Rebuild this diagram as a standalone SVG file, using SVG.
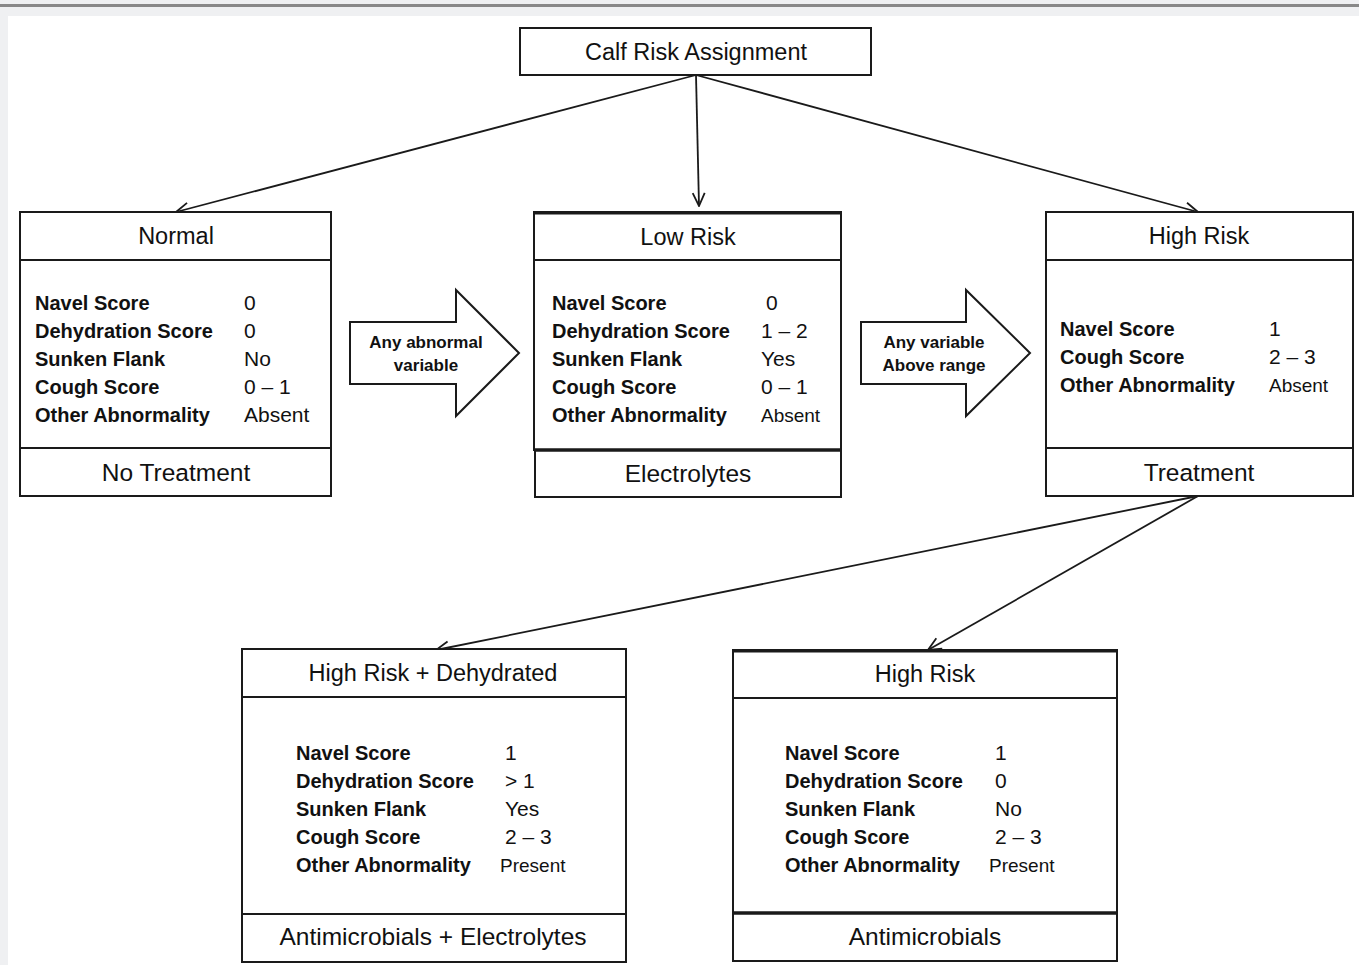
<svg xmlns="http://www.w3.org/2000/svg" width="1359" height="965" viewBox="0 0 1359 965">
<style>
.bx{fill:#fff;stroke:#1a1a1a;stroke-width:2}
.ln{stroke:#1a1a1a;stroke-width:2;fill:none}
.hd{font-family:"Liberation Sans",Arial,sans-serif;font-size:23.5px;fill:#111;text-anchor:middle}
.ft{font-family:"Liberation Sans",Arial,sans-serif;font-size:24.5px;fill:#111;text-anchor:middle}
.lb{font-family:"Liberation Sans",Arial,sans-serif;font-size:20px;font-weight:bold;fill:#111}
.vl{font-family:"Liberation Sans",Arial,sans-serif;font-size:21px;fill:#111}
.vs{font-family:"Liberation Sans",Arial,sans-serif;font-size:19px;fill:#111}
.ar{font-family:"Liberation Sans",Arial,sans-serif;font-size:17px;font-weight:bold;fill:#111;text-anchor:middle}
.cn{stroke:#1a1a1a;stroke-width:1.8;fill:none;marker-end:url(#v)}
</style>
<defs>
<marker id="v" markerUnits="userSpaceOnUse" markerWidth="16" markerHeight="16" viewBox="0 0 16 16" refX="15" refY="8" orient="auto">
<path d="M2,2 L15,8 L2,14" fill="none" stroke="#1a1a1a" stroke-width="1.8"/>
</marker>
</defs>
<rect x="0" y="0" width="1359" height="965" fill="#fff"/>
<rect x="0" y="0" width="1359" height="16" fill="#eff0f2"/>
<rect x="0" y="0" width="8" height="965" fill="#eff0f2"/>
<rect x="0" y="4" width="1359" height="3" fill="#888"/>

<g id="connectors">
<line class="cn" x1="696" y1="75" x2="176" y2="212"/>
<line class="cn" x1="696" y1="75" x2="699" y2="206"/>
<line class="cn" x1="696" y1="75" x2="1198" y2="212"/>
<line class="cn" x1="1198" y1="496" x2="436" y2="650"/>
<line class="cn" x1="1198" y1="496" x2="928" y2="650"/>
</g>

<g id="root">
<rect class="bx" x="520" y="28" width="351" height="47"/>
<text class="hd" x="696" y="60">Calf Risk Assignment</text>
</g>

<g id="normal">
<rect class="bx" x="20" y="212" width="311" height="284"/>
<line class="ln" x1="20" y1="260" x2="331" y2="260"/>
<line class="ln" x1="20" y1="448" x2="331" y2="448"/>
<text class="hd" x="176" y="244">Normal</text>
<text class="lb" x="35" y="310">Navel Score</text>
<text class="lb" x="35" y="338">Dehydration Score</text>
<text class="lb" x="35" y="366">Sunken Flank</text>
<text class="lb" x="35" y="394">Cough Score</text>
<text class="lb" x="35" y="422">Other Abnormality</text>
<text class="vl" x="244" y="310">0</text>
<text class="vl" x="244" y="338">0</text>
<text class="vl" x="244" y="366">No</text>
<text class="vl" x="244" y="394">0 – 1</text>
<text class="vl" x="244" y="422">Absent</text>
<text class="ft" x="176" y="481">No Treatment</text>
</g>

<g id="arrow-abnormal">
<polygon class="bx" points="350,322 456,322 456,290 519,353 456,416 456,384 350,384"/>
<text class="ar" x="426" y="348">Any abnormal</text>
<text class="ar" x="426" y="371">variable</text>
</g>

<g id="low-risk">
<rect class="bx" x="534" y="212" width="307" height="238"/>
<line x1="534" y1="213" x2="841" y2="213" stroke="#1a1a1a" stroke-width="3"/>
<line class="ln" x1="534" y1="260" x2="841" y2="260"/>
<rect class="bx" x="535" y="450" width="306" height="47"/>
<line x1="534" y1="450" x2="841" y2="450" stroke="#1a1a1a" stroke-width="3.5"/>
<text class="hd" x="688" y="245">Low Risk</text>
<text class="lb" x="552" y="310">Navel Score</text>
<text class="lb" x="552" y="338">Dehydration Score</text>
<text class="lb" x="552" y="366">Sunken Flank</text>
<text class="lb" x="552" y="394">Cough Score</text>
<text class="lb" x="552" y="422">Other Abnormality</text>
<text class="vl" x="766" y="310">0</text>
<text class="vl" x="761" y="338">1 – 2</text>
<text class="vl" x="761" y="366">Yes</text>
<text class="vl" x="761" y="394">0 – 1</text>
<text class="vs" x="761" y="422">Absent</text>
<text class="ft" x="688" y="482">Electrolytes</text>
</g>

<g id="arrow-above">
<polygon class="bx" points="861,322 966,322 966,290 1030,353 966,416 966,384 861,384"/>
<text class="ar" x="934" y="348">Any variable</text>
<text class="ar" x="934" y="371">Above range</text>
</g>

<g id="high-risk">
<rect class="bx" x="1046" y="212" width="307" height="284"/>
<line class="ln" x1="1046" y1="260" x2="1353" y2="260"/>
<line class="ln" x1="1046" y1="448" x2="1353" y2="448"/>
<text class="hd" x="1199" y="244">High Risk</text>
<text class="lb" x="1060" y="336">Navel Score</text>
<text class="lb" x="1060" y="364">Cough Score</text>
<text class="lb" x="1060" y="392">Other Abnormality</text>
<text class="vl" x="1269" y="336">1</text>
<text class="vl" x="1269" y="364">2 – 3</text>
<text class="vs" x="1269" y="392">Absent</text>
<text class="ft" x="1199" y="481">Treatment</text>
</g>

<g id="high-risk-dehydrated">
<rect class="bx" x="242" y="649" width="384" height="313"/>
<line class="ln" x1="242" y1="697" x2="626" y2="697"/>
<line class="ln" x1="242" y1="914" x2="626" y2="914"/>
<text class="hd" x="433" y="681">High Risk + Dehydrated</text>
<text class="lb" x="296" y="760">Navel Score</text>
<text class="lb" x="296" y="788">Dehydration Score</text>
<text class="lb" x="296" y="816">Sunken Flank</text>
<text class="lb" x="296" y="844">Cough Score</text>
<text class="lb" x="296" y="872">Other Abnormality</text>
<text class="vl" x="505" y="760">1</text>
<text class="vl" x="505" y="788">&gt; 1</text>
<text class="vl" x="505" y="816">Yes</text>
<text class="vl" x="505" y="844">2 – 3</text>
<text class="vs" x="500" y="872">Present</text>
<text class="ft" x="433" y="945">Antimicrobials + Electrolytes</text>
</g>

<g id="high-risk-2">
<rect class="bx" x="733" y="650" width="384" height="311"/>
<line x1="733" y1="651" x2="1117" y2="651" stroke="#1a1a1a" stroke-width="3"/>
<line class="ln" x1="733" y1="698" x2="1117" y2="698"/>
<line x1="733" y1="913" x2="1117" y2="913" stroke="#1a1a1a" stroke-width="3.5"/>
<text class="hd" x="925" y="682">High Risk</text>
<text class="lb" x="785" y="760">Navel Score</text>
<text class="lb" x="785" y="788">Dehydration Score</text>
<text class="lb" x="785" y="816">Sunken Flank</text>
<text class="lb" x="785" y="844">Cough Score</text>
<text class="lb" x="785" y="872">Other Abnormality</text>
<text class="vl" x="995" y="760">1</text>
<text class="vl" x="995" y="788">0</text>
<text class="vl" x="995" y="816">No</text>
<text class="vl" x="995" y="844">2 – 3</text>
<text class="vs" x="989" y="872">Present</text>
<text class="ft" x="925" y="945">Antimicrobials</text>
</g>
</svg>
